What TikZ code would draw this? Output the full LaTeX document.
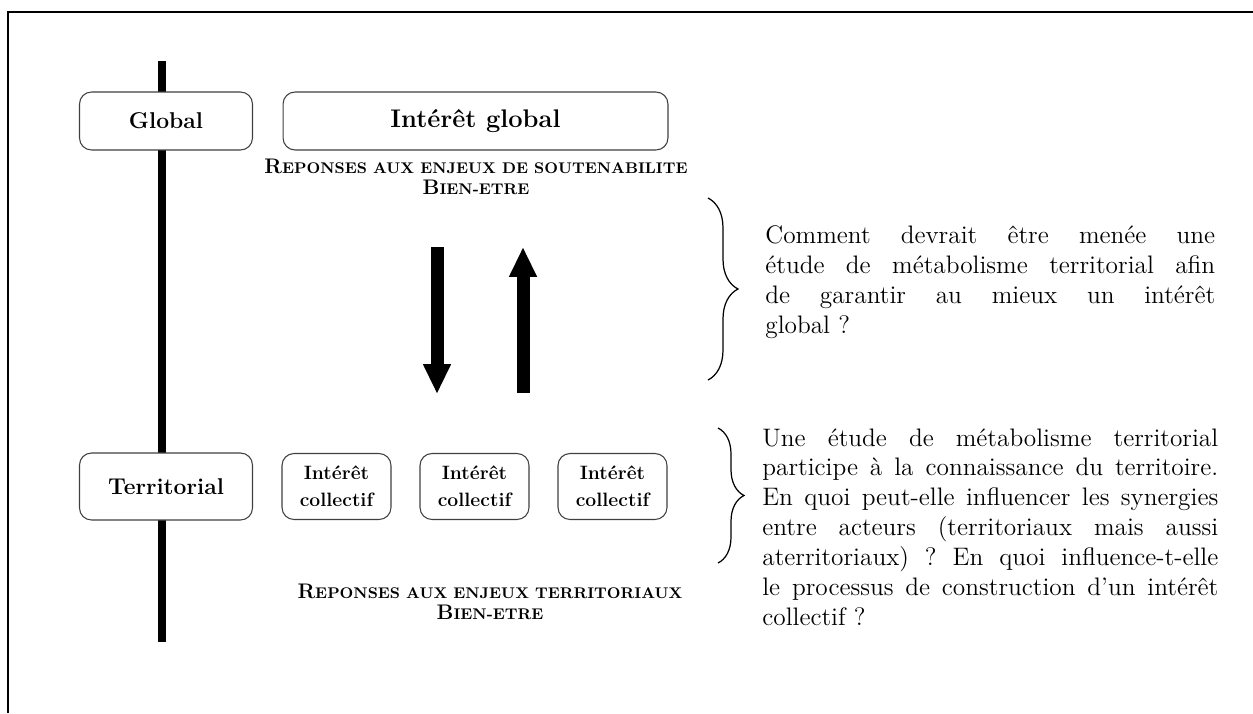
\documentclass[tikz,border=0pt]{standalone}
\usepackage{fontspec}
\usetikzlibrary{arrows.meta,decorations.pathreplacing}

\newcommand{\fakesc}[2]{{\fontsize{12}{12}\selectfont #1}{\fontsize{8.8}{12}\selectfont #2}}
\newcommand{\fullline}[2]{\makebox[#1][s]{#2}}
\frenchspacing

\begin{document}
\begin{tikzpicture}[x=0.02cm,y=-0.02cm,
        box/.style={draw=black!75, fill=white, line width=0.6pt, rounded corners=0.24cm, align=center, inner sep=0pt},
        boxtext/.style={font=\bfseries\fontsize{13}{15}\selectfont},
        subtitle/.style={align=center, inner sep=0pt, font=\bfseries},
        question/.style={align=left, anchor=west, inner sep=0pt, font=\fontsize{14.4}{17}\selectfont},
        thickarrow/.style={line width=0.26cm, -{Triangle[width=0.52cm,length=0.6cm]}},
        curly/.style={decorate, decoration={brace, amplitude=0.6cm}, line width=0.7pt}]
        \useasboundingbox (0,0) rectangle (1253,713);
        \draw[line width=0.055cm] (8,713) -- (8,12) -- (1253,12);
    % The scale bar, behind the boxes.
        \draw[line width=0.16cm] (162,61) -- (162,642);
        \node[box, boxtext, minimum width=3.46cm, minimum height=1.16cm] (global) at (166,121) {Global};
        \node[box, boxtext, font=\bfseries\fontsize{14.5}{15}\selectfont, minimum width=7.7cm, minimum height=1.16cm] (intglobal) at (475.5,121) {Intérêt global};
        \node[subtitle] (repglobal) at (476,177) {\fakesc{R}{EPONSES AUX ENJEUX DE SOUTENABILITE}\\\fakesc{B}{IEN-ETRE}};
        \node[box, boxtext, minimum width=3.46cm, minimum height=1.34cm] (territorial) at (166,486.5) {Territorial};
        \foreach \i/\x in {1/336.5, 2/474.5, 3/612.5}
            \node[box, font=\bfseries\fontsize{11}{15.5}\selectfont, minimum width=2.18cm, minimum height=1.32cm] (coll\i) at (\x,486.5) {Intérêt\\collectif};
        \node[subtitle] (repterr) at (490,602) {\fakesc{R}{EPONSES AUX ENJEUX TERRITORIAUX}\\\fakesc{B}{IEN-ETRE}};
    % This draws the two big arrows.
        \coordinate (downtop) at (437,247);
        \coordinate (downtip) at (437,394);
        \coordinate (upbase) at (523,393);
        \coordinate (uptip) at (523,247);
        \draw[thickarrow] (downtop) -- (downtip);
        \draw[thickarrow] (upbase) -- (uptip);
    % Below are the braces and the questions.
        \coordinate (braceatop) at (708,198);
        \coordinate (braceabot) at (708,380);
        \coordinate (bracebtop) at (718,428);
        \coordinate (bracebbot) at (718,563);
        \draw[curly] (braceatop) -- (braceabot);
        \draw[curly, decoration={amplitude=0.52cm}] (bracebtop) -- (bracebbot);
        \node[question] (qglobal) at (765,282) {%
            \fullline{9cm}{Comment devrait être menée une}\\
            \fullline{9cm}{étude de métabolisme territorial afin}\\
            \fullline{9cm}{de garantir au mieux un intérêt}\\
            global~?};
        \node[question] (qterr) at (762,527) {%
            \fullline{9.12cm}{Une étude de métabolisme territorial}\\
            \fullline{9.12cm}{participe à la connaissance du territoire.}\\
            \fullline{9.12cm}{En quoi peut-elle influencer les synergies}\\
            \fullline{9.12cm}{entre acteurs (territoriaux mais aussi}\\
            \fullline{9.12cm}{aterritoriaux) ? En quoi influence-t-elle}\\
            \fullline{9.12cm}{le processus de construction d’un intérêt}\\
            collectif~?};
    \end{tikzpicture}
\end{document}
